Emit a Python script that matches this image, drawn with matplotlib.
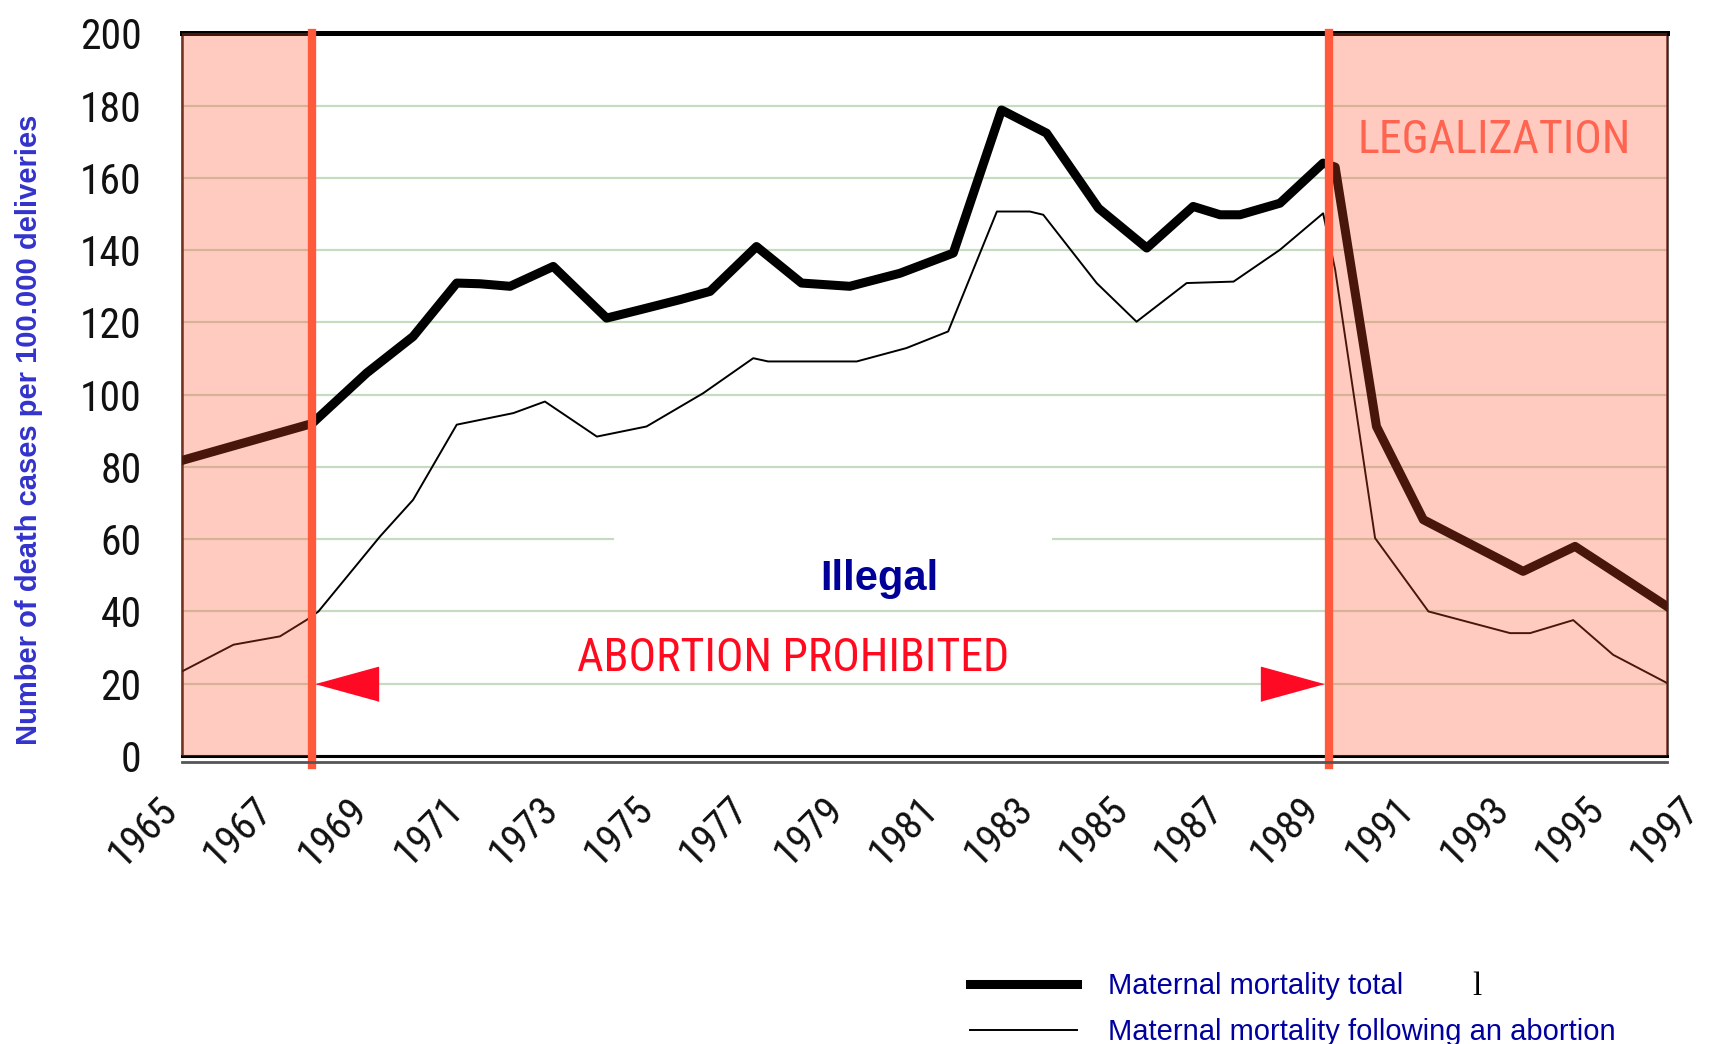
import matplotlib.pyplot as plt
import matplotlib.font_manager as fm
from matplotlib.patches import Rectangle

# narrow DIN-like face for the numbers and red captions, whatever is installed
available = {f.name for f in fm.fontManager.ttflist}
NARROW = 'Roboto'
for cand in ['Liberation Sans Narrow', 'Roboto Condensed', 'Open Sans Condensed']:
    if cand in available:
        NARROW = cand
        break
plt.rcParams['font.family'] = [NARROW, 'DejaVu Sans']

# values; x is the position on the year axis
years_total = [1965.00, 1967.80, 1968.98, 1969.98, 1970.92, 1971.42, 1972.07, 1973.00,
               1974.15, 1974.87, 1975.73, 1976.38, 1977.38, 1978.35, 1979.39, 1980.47,
               1981.62, 1982.66, 1983.63, 1984.75, 1985.79, 1986.79, 1987.37, 1987.80,
               1988.66, 1989.59, 1989.85, 1990.74, 1991.75, 1993.90, 1995.02, 1997.00]
total = [81.8, 92.0, 106.0, 116.1, 130.9, 130.7, 130.0, 135.5,
         121.2, 123.5, 126.3, 128.6, 141.0, 130.9, 130.0, 133.6,
         139.2, 178.8, 172.4, 151.6, 140.6, 152.1, 149.8, 149.8,
         153.0, 164.1, 163.0, 91.2, 65.4, 51.1, 58.0, 41.4]

years_abortion = [1965.00, 1966.11, 1967.11, 1967.69, 1967.94, 1969.27, 1969.98, 1970.92,
                  1972.14, 1972.82, 1973.94, 1975.01, 1976.23, 1977.31, 1977.63, 1979.54,
                  1980.61, 1981.51, 1982.56, 1983.27, 1983.56, 1984.71, 1985.57, 1986.65,
                  1987.66, 1988.66, 1989.59, 1989.85, 1990.71, 1991.86, 1993.62, 1994.05,
                  1994.98, 1995.84, 1997.00]
abortion = [23.4, 30.8, 33.1, 37.7, 40.0, 60.8, 70.9, 91.7,
            94.9, 98.1, 88.4, 91.2, 100.4, 110.1, 109.2, 109.2,
            112.9, 117.5, 150.7, 150.7, 149.8, 130.9, 120.2, 130.9,
            131.3, 140.1, 150.2, 134.6, 60.3, 40.0, 34.0, 34.0,
            37.6, 28.0, 20.2]

series_labels = ['Maternal mortality total', 'Maternal mortality following an abortion']
year_ticks = list(range(1965, 1998, 2))
year_labels = [str(y) for y in year_ticks]
y_ticks = list(range(0, 201, 20))

prohibition_start = 1967.8
legalization = 1989.72

fig = plt.figure(figsize=(17.09, 10.44), dpi=100)
ax = fig.add_axes([0.1065, 0.2759, 0.8689, 0.6921])
ax.set_xlim(1965, 1997)
ax.set_ylim(0, 200)
ax.set_xticks([])
ax.set_yticks(y_ticks)
ax.tick_params(axis='y', length=0, pad=29, labelsize=30, labelcolor='#111111')
ax.yaxis.grid(True, color='#c6dcc0', lw=1.6)
ax.set_axisbelow(True)

# white patch behind "Illegal" that cuts the 60 gridline
ax.add_patch(Rectangle((0.291, 0.21), 0.295, 0.11, transform=ax.transAxes,
                       facecolor='white', edgecolor='none', zorder=1))

l_total, = ax.plot(years_total, total, color='black', lw=6.5, zorder=3)
l_abort, = ax.plot(years_abortion, abortion, color='black', lw=1.4, zorder=3)

# shaded periods (drawn over the lines, tinting them)
ax.axvspan(1965, prohibition_start, color='#ff4f2b', alpha=0.29, lw=0, zorder=4)
ax.axvspan(legalization, 1997, color='#ff4f2b', alpha=0.29, lw=0, zorder=4)
for xv in (prohibition_start, legalization):
    ax.axvline(xv, ymin=-0.012, ymax=1, color='#ff5a3c', lw=6, zorder=6, clip_on=False)

# arrows marking the prohibition period
left_tri = [(-1, 0), (1, 0.55), (1, -0.55)]
right_tri = [(1, 0), (-1, 0.55), (-1, -0.55)]
ax.plot([1968.56], [20], marker=left_tri, ms=44.6, color='#ff0a24', lw=0, zorder=5)
ax.plot([1988.91], [20], marker=right_tri, ms=44.6, color='#ff0a24', lw=0, zorder=5)

ax.text(1978.16, 23.4, 'ABORTION PROHIBITED', color='#ff0a1e', fontsize=33,
        ha='center', va='baseline', zorder=5)
ax.text(1993.27, 167, 'LEGALIZATION', color='#ff6450', fontsize=33,
        ha='center', va='baseline', zorder=5)
ax.text(1980.02, 46.0, 'Illegal', color='#000099', fontsize=30, weight='bold',
        family='Liberation Sans', ha='center', va='baseline', zorder=5)

# frame
ax.spines['top'].set_linewidth(3.6)
ax.spines['top'].set_color('black')
for s in ('left', 'right'):
    ax.spines[s].set_linewidth(1.8)
    ax.spines[s].set_color('#3a2420')
ax.spines['bottom'].set_linewidth(2.2)
ax.spines['bottom'].set_color('black')
ax.plot([0, 1], [-0.009, -0.009], transform=ax.transAxes, color='#555555',
        lw=2, clip_on=False, zorder=6)

# year labels sit on a slightly wider scale than the data area
axx = fig.add_axes([0.1083, 0.2759, 0.8903, 0.6921], frameon=False)
axx.patch.set_visible(False)
axx.set_xlim(1965, 1997)
axx.set_ylim(0, 1)
axx.set_yticks([])
axx.set_xticks(year_ticks)
axx.set_xticklabels(year_labels, rotation=45, ha='right', va='top')
axx.tick_params(axis='x', length=0, pad=24, labelsize=29, labelcolor='#111111')

fig.text(29 / 1709, 1 - 430 / 1044, 'Number of death cases per 100.000 deliveries',
         rotation=90, ha='center', va='center', fontsize=21, weight='bold',
         color='#3333cc', family='Liberation Sans')

fig.legend([l_total, l_abort], series_labels, loc='center left',
           bbox_to_anchor=(970 / 1709, 1 - 1009 / 1044), frameon=False,
           borderpad=0, borderaxespad=0, handlelength=3.66, handletextpad=1.06,
           labelspacing=0.6, prop={'family': 'Liberation Sans', 'size': 21},
           labelcolor='#0000a0')

fig.text(1477 / 1709, 1 - 987 / 1044, 'l', family='Liberation Serif', fontsize=24,
         color='black', ha='center', va='center')

fig.savefig('out.png', dpi=100)
